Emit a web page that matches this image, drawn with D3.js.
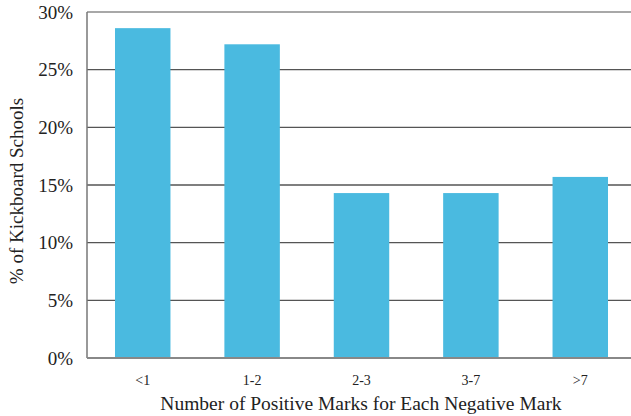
<!DOCTYPE html>
<html>
<head>
<meta charset="utf-8">
<script src="https://cdn.jsdelivr.net/npm/d3@7"></script>
<style>
  html, body { margin: 0; padding: 0; background: #fff; }
  svg { display: block; }
  text { font-family: Georgia, "Liberation Serif", "DejaVu Serif", serif; fill: #222; }
</style>
</head>
<body>
<svg id="chart" width="631" height="416"></svg>
<script>
// Share of Kickboard schools by positive-to-negative mark ratio
const categories = ["<1", "1-2", "2-3", "3-7", ">7"];
const shares = [28.6, 27.2, 14.3, 14.3, 15.7];
const yTicks = [0, 5, 10, 15, 20, 25, 30];

const W = 631, H = 416;
const margin = { top: 12, right: -1, bottom: 58, left: 87 };
const innerW = W - margin.left - margin.right;
const innerH = H - margin.top - margin.bottom;

const svg = d3.select("#chart");
const g = svg.append("g").attr("transform", `translate(${margin.left},${margin.top})`);

const x = d3.scaleBand().domain(categories).range([0, 549]).paddingInner(0.493).paddingOuter(0.256);
const y = d3.scaleLinear().domain([0, 30]).range([innerH, 0]);

// horizontal gridlines
g.append("g").selectAll("line")
  .data(yTicks.filter(t => t > 0))
  .join("line")
  .attr("x1", 0).attr("x2", innerW)
  .attr("y1", d => y(d)).attr("y2", d => y(d))
  .attr("stroke", d => d === 30 ? "#a8a8a8" : "#555")
  .attr("stroke-width", d => d === 30 ? 2 : 1.3);

// bars
g.append("g").selectAll("rect")
  .data(shares)
  .join("rect")
  .attr("x", (d, i) => x(categories[i]))
  .attr("width", x.bandwidth())
  .attr("y", d => y(d))
  .attr("height", d => innerH - y(d))
  .attr("fill", "#4abae0");

// left axis line
g.append("line")
  .attr("x1", 0).attr("x2", 0)
  .attr("y1", 0).attr("y2", innerH)
  .attr("stroke", "#777").attr("stroke-width", 1.5);

// baseline
g.append("line")
  .attr("x1", 0).attr("x2", innerW)
  .attr("y1", innerH).attr("y2", innerH)
  .attr("stroke", "#888").attr("stroke-width", 2);

// y tick labels
const yAxis = d3.axisLeft(y).tickValues(yTicks).tickFormat(d => d + "%").tickSize(0).tickPadding(14);
g.append("g").call(yAxis)
  .call(a => a.select(".domain").remove())
  .selectAll("text")
  .style("font-size", "19px")
  .attr("fill", "#222")
  .style("font-family", "Georgia, 'Liberation Serif', serif");

// x tick labels
const xAxis = d3.axisBottom(x).tickSize(0).tickPadding(17);
g.append("g").attr("transform", `translate(0,${innerH})`).call(xAxis)
  .call(a => a.select(".domain").remove())
  .selectAll("text")
  .style("font-size", "14px")
  .attr("fill", "#222")
  .style("font-family", "Georgia, 'Liberation Serif', serif");

// axis titles
svg.append("text")
  .attr("x", 361).attr("y", 410)
  .attr("text-anchor", "middle")
  .style("font-size", "19.5px")
  .text("Number of Positive Marks for Each Negative Mark");

svg.append("text")
  .attr("transform", `translate(23,${margin.top + innerH / 2 + 6}) rotate(-90)`)
  .attr("text-anchor", "middle")
  .style("font-size", "19px")
  .text("% of Kickboard Schools");
</script>
</body>
</html>
